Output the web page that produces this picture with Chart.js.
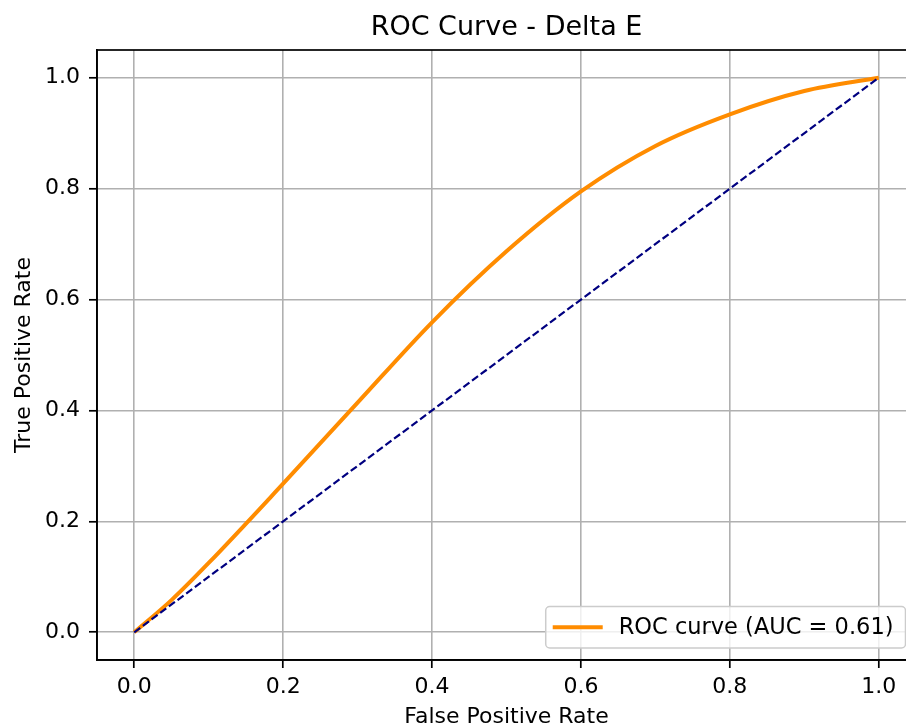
<!DOCTYPE html>
<html>
<head>
<meta charset="utf-8">
<script src="https://cdn.jsdelivr.net/npm/chart.js@4/dist/chart.umd.min.js"></script>
<style>
  html, body { margin: 0; padding: 0; background: #fff; overflow: hidden; }
  #wrap { width: 906px; height: 728px; overflow: hidden; }
</style>
</head>
<body>
<div id="wrap"><canvas id="roc" width="940" height="728"></canvas></div>
<script>
// ROC curve points
const fpr = [0, 0.05, 0.1, 0.2, 0.3, 0.4, 0.5, 0.6, 0.7, 0.8, 0.9, 1.0];
const tpr = [0, 0.058, 0.125, 0.268, 0.414, 0.559, 0.687, 0.795, 0.877, 0.934, 0.976, 1.0];
// chance line
const diagX = [0, 1];
const diagY = [0, 1];
const tickVals = [0, 0.2, 0.4, 0.6, 0.8, 1.0];
const chartTitle = 'ROC Curve - Delta E';
const curveLabel = 'ROC curve (AUC = 0.61)';

const FONT = 'DejaVu Sans';

// title centred over the plot area (matplotlib does that, Chart.js centres on the canvas)
const axesTitle = {
    id: 'axesTitle',
    afterDraw(chart) {
        const { ctx, chartArea: a } = chart;
        ctx.save();
        ctx.font = '27px "' + FONT + '"';
        ctx.fillStyle = '#000';
        ctx.textAlign = 'center';
        ctx.textBaseline = 'middle';
        ctx.fillText(chartTitle, (a.left + a.right) / 2, 27.6);
        ctx.restore();
    }
};

// matplotlib style frame (top + right spines)
const framePlugin = {
    id: 'frame',
    afterDatasetsDraw(chart) {
        const { ctx, chartArea: a } = chart;
        ctx.save();
        ctx.strokeStyle = '#000';
        ctx.lineWidth = 1.7;
        ctx.strokeRect(a.left, a.top, a.right - a.left, a.bottom - a.top);
        ctx.restore();
    }
};

// legend box in lower right of plot area
const boxLegend = {
    id: 'boxLegend',
    afterDraw(chart) {
        const ctx = chart.ctx;
        const a = chart.chartArea;
        const ds = chart.data.datasets[0];
        ctx.save();
        ctx.font = '22.5px "' + FONT + '"';
        const tw = ctx.measureText(ds.label).width;
        const right = a.right - 10.5;
        const bottom = a.bottom - 12;
        const h = 41.5;
        const w = 73 + tw + 12;
        const left = right - w;
        const top = bottom - h;
        ctx.beginPath();
        ctx.roundRect(left, top, w, h, 4);
        ctx.fillStyle = 'rgba(255,255,255,0.8)';
        ctx.fill();
        ctx.strokeStyle = '#cccccc';
        ctx.lineWidth = 1.5;
        ctx.stroke();
        const cy = top + h / 2;
        ctx.beginPath();
        ctx.moveTo(left + 7, cy);
        ctx.lineTo(left + 57, cy);
        ctx.strokeStyle = ds.borderColor;
        ctx.lineWidth = 4;
        ctx.stroke();
        ctx.fillStyle = '#000';
        ctx.textBaseline = 'middle';
        ctx.fillText(ds.label, left + 73, cy + 1);
        ctx.restore();
    }
};

function axisOpts(title, isX) {
    return {
        type: 'linear',
        min: -0.05,
        max: 1.05,
        afterBuildTicks(scale) {
            scale.ticks = tickVals.map(v => ({ value: v }));
        },
        afterFit(scale) {
            if (isX) scale.height = 68;
            else scale.width = 97;
        },
        grid: {
            color: '#b0b0b0',
            lineWidth: 1.6,
            drawTicks: true,
            tickLength: 8,
            tickColor: '#000',
            tickWidth: 1.7
        },
        border: { color: '#000', width: 1.7 },
        ticks: {
            color: '#000',
            font: { family: FONT, size: 22 },
            padding: isX ? 6 : 9,
            callback: v => v.toFixed(1)
        },
        title: {
            display: true,
            text: title,
            color: '#000',
            font: { family: FONT, size: 22, lineHeight: isX ? 1.0 : 1.2 },
            padding: isX ? { top: 0, bottom: 0 } : { top: 11.5, bottom: 0 }
        }
    };
}

new Chart(document.getElementById('roc'), {
    type: 'scatter',
    data: {
        datasets: [
            {
                label: curveLabel,
                data: fpr.map((x, i) => ({ x: x, y: tpr[i] })),
                showLine: true,
                borderColor: '#ff8c00',
                borderWidth: 4,
                pointRadius: 0,
                cubicInterpolationMode: 'monotone',
                order: 1
            },
            {
                label: '',
                data: diagX.map((x, i) => ({ x: x, y: diagY[i] })),
                showLine: true,
                borderColor: '#000080',
                borderWidth: 2.2,
                borderDash: [7.5, 3.3],
                pointRadius: 0,
                order: 0
            }
        ]
    },
    options: {
        responsive: false,
        animation: false,
        layout: { padding: { left: 0, right: 24, top: 50, bottom: 0 } },
        scales: {
            x: axisOpts('False Positive Rate', true),
            y: axisOpts('True Positive Rate', false)
        },
        plugins: {
            legend: { display: false },
            tooltip: { enabled: false },
            title: { display: false }
        }
    },
    plugins: [framePlugin, boxLegend, axesTitle]
});
</script>
</body>
</html>
